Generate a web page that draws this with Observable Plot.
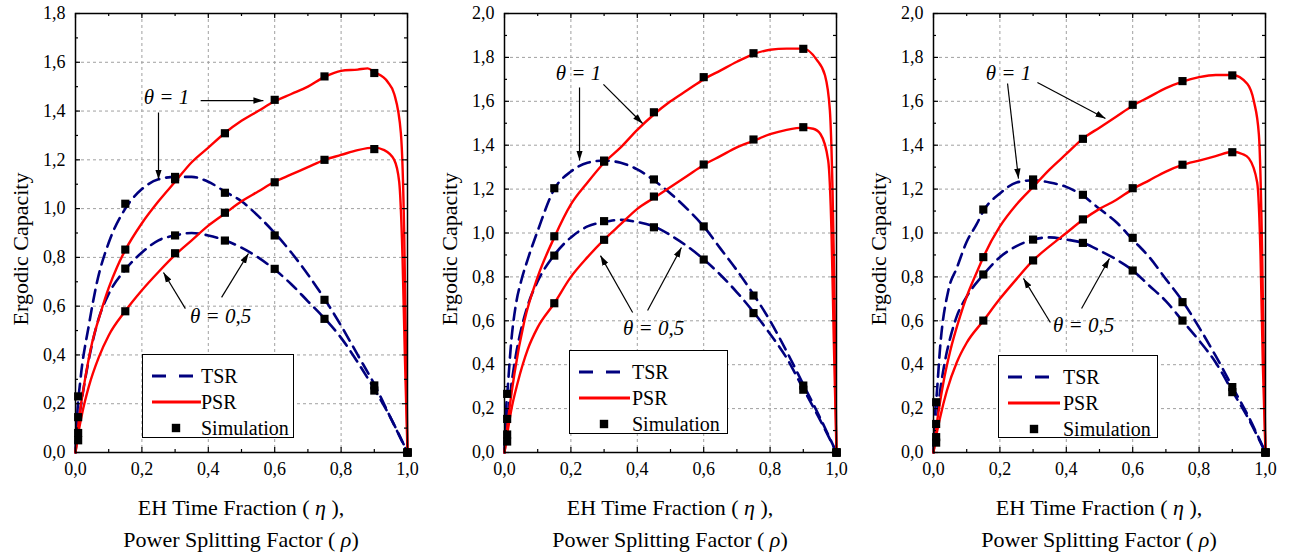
<!DOCTYPE html>
<html><head><meta charset="utf-8">
<script src="https://cdn.jsdelivr.net/npm/d3@7"></script>
<script src="https://cdn.jsdelivr.net/npm/@observablehq/plot@0.6"></script>
<style>
html,body{margin:0;padding:0;background:#fff;}
body{font-family:"Liberation Serif","Times New Roman",serif;color:#000;}
#wrap{position:relative;width:1293px;height:555px;overflow:hidden;}
.panel{position:absolute;top:0;height:555px;}
.panel svg{position:absolute;left:0;top:0;}
.panel svg text{font-family:"Liberation Serif","Times New Roman",serif !important;}
.xlab{position:absolute;top:492px;width:400px;text-align:center;font-size:22px;line-height:32px;white-space:nowrap;font-family:"Liberation Serif","Times New Roman",serif;}
.legend{position:absolute;border:1px solid #000;background:#fff;box-sizing:border-box;font-size:20px;font-family:"Liberation Serif","Times New Roman",serif;}
.legend .row{position:absolute;left:0;height:26px;line-height:26px;width:100%;}
.legend .row span{position:absolute;top:0;}
.legend .row svg{position:absolute;top:0;left:0;}
</style>
</head><body>
<div id="wrap"></div>
<script>
// ---------- data ----------
const yMax = [1.8, 2.0, 2.0];
const seriesNames = ["TSR", "PSR", "Simulation"];
const xLabelLine1 = "EH Time Fraction ( <i>η</i> ),";
const xLabelLine2 = "Power Splitting Factor ( <i>ρ</i>)";
const yLabel = "Ergodic Capacity";
const thetaLabels = ["θ = 1", "θ = 0,5"];

// Panel 1 analytic curves [x, capacity]
const p1TSR1 = [[0,0],[0.005,0.15],[0.015,0.3],[0.04,0.52],[0.065,0.7],[0.1,0.86],[0.15,1.0],[0.2,1.08],[0.25,1.12],[0.3,1.13],[0.35,1.13],[0.4,1.11],[0.45,1.07],[0.5,1.03],[0.55,0.97],[0.6,0.9],[0.65,0.82],[0.7,0.73],[0.75,0.63],[0.8,0.52],[0.85,0.4],[0.9,0.28],[0.95,0.14],[1,0]];
const p1TSR05 = [[0,0],[0.005,0.08],[0.015,0.18],[0.04,0.38],[0.07,0.55],[0.1,0.65],[0.15,0.75],[0.2,0.82],[0.25,0.87],[0.3,0.89],[0.35,0.9],[0.4,0.89],[0.45,0.87],[0.5,0.84],[0.55,0.8],[0.6,0.75],[0.65,0.69],[0.7,0.62],[0.75,0.55],[0.8,0.47],[0.85,0.37],[0.9,0.26],[0.95,0.14],[1,0]];
const p1PSR1 = [[0,0],[0.01,0.13],[0.03,0.31],[0.05,0.45],[0.075,0.57],[0.1,0.675],[0.125,0.76],[0.15,0.83],[0.2,0.94],[0.25,1.03],[0.3,1.11],[0.35,1.19],[0.4,1.25],[0.45,1.31],[0.5,1.36],[0.55,1.4],[0.6,1.44],[0.65,1.47],[0.7,1.5],[0.75,1.54],[0.8,1.565],[0.85,1.57],[0.88,1.575],[0.9,1.56],[0.94,1.52],[0.96,1.47],[0.98,1.31],[0.99,0.9],[0.995,0.45],[1,0]];
const p1PSR05 = [[0,0],[0.01,0.09],[0.02,0.16],[0.04,0.27],[0.07,0.39],[0.1,0.48],[0.15,0.58],[0.2,0.665],[0.25,0.74],[0.3,0.81],[0.35,0.87],[0.4,0.93],[0.45,0.98],[0.5,1.03],[0.55,1.07],[0.6,1.11],[0.65,1.14],[0.7,1.17],[0.75,1.2],[0.8,1.22],[0.85,1.24],[0.9,1.25],[0.93,1.24],[0.96,1.2],[0.975,1.11],[0.985,0.8],[0.992,0.4],[1,0]];

// Panel 2
const p2TSR1 = [[0,0],[0.005,0.2],[0.01,0.3],[0.02,0.5],[0.035,0.68],[0.05,0.78],[0.07,0.88],[0.1,1.01],[0.15,1.2],[0.2,1.28],[0.25,1.32],[0.3,1.33],[0.35,1.32],[0.4,1.29],[0.45,1.24],[0.5,1.18],[0.55,1.11],[0.6,1.03],[0.65,0.93],[0.7,0.83],[0.75,0.72],[0.8,0.6],[0.85,0.46],[0.9,0.31],[0.95,0.16],[1,0]];
const p2TSR05 = [[0,0],[0.005,0.1],[0.01,0.17],[0.02,0.3],[0.035,0.45],[0.05,0.56],[0.07,0.67],[0.1,0.78],[0.15,0.9],[0.2,0.98],[0.25,1.03],[0.3,1.05],[0.35,1.06],[0.4,1.05],[0.45,1.03],[0.5,0.99],[0.55,0.94],[0.6,0.88],[0.65,0.81],[0.7,0.73],[0.75,0.64],[0.8,0.54],[0.85,0.43],[0.9,0.29],[0.95,0.15],[1,0]];
const p2PSR1 = [[0,0],[0.01,0.14],[0.03,0.36],[0.06,0.6],[0.1,0.8],[0.15,0.98],[0.2,1.13],[0.25,1.23],[0.3,1.32],[0.35,1.39],[0.4,1.47],[0.45,1.54],[0.5,1.6],[0.55,1.65],[0.6,1.7],[0.65,1.74],[0.7,1.78],[0.75,1.815],[0.8,1.835],[0.85,1.84],[0.9,1.84],[0.94,1.79],[0.965,1.72],[0.98,1.56],[0.988,1.2],[0.993,0.8],[0.997,0.3],[1,0]];
const p2PSR05 = [[0,0],[0.01,0.1],[0.02,0.19],[0.04,0.32],[0.07,0.47],[0.1,0.57],[0.15,0.68],[0.2,0.8],[0.25,0.89],[0.3,0.97],[0.35,1.04],[0.4,1.11],[0.45,1.16],[0.5,1.21],[0.55,1.26],[0.6,1.31],[0.65,1.35],[0.7,1.39],[0.75,1.42],[0.8,1.45],[0.85,1.47],[0.9,1.48],[0.93,1.475],[0.952,1.45],[0.975,1.33],[0.985,1.0],[0.992,0.5],[1,0]];

// Panel 3
const p3TSR1 = [[0,0],[0.005,0.18],[0.01,0.27],[0.02,0.48],[0.045,0.74],[0.07,0.84],[0.1,0.96],[0.13,1.04],[0.15,1.1],[0.2,1.18],[0.25,1.23],[0.3,1.24],[0.35,1.23],[0.4,1.21],[0.45,1.17],[0.5,1.11],[0.55,1.05],[0.6,0.97],[0.65,0.89],[0.7,0.79],[0.75,0.69],[0.8,0.57],[0.85,0.44],[0.9,0.3],[0.95,0.16],[1,0]];
const p3TSR05 = [[0,0],[0.005,0.09],[0.01,0.15],[0.02,0.28],[0.035,0.42],[0.05,0.52],[0.07,0.62],[0.1,0.71],[0.15,0.81],[0.2,0.89],[0.25,0.94],[0.3,0.97],[0.35,0.98],[0.4,0.97],[0.45,0.955],[0.5,0.92],[0.55,0.88],[0.6,0.83],[0.65,0.76],[0.7,0.69],[0.75,0.6],[0.8,0.51],[0.85,0.41],[0.9,0.28],[0.95,0.15],[1,0]];
const p3PSR1 = [[0,0],[0.01,0.13],[0.03,0.32],[0.05,0.46],[0.08,0.62],[0.1,0.71],[0.13,0.82],[0.15,0.89],[0.2,1.03],[0.25,1.13],[0.3,1.21],[0.35,1.29],[0.4,1.36],[0.45,1.43],[0.5,1.48],[0.55,1.53],[0.6,1.58],[0.65,1.62],[0.7,1.66],[0.75,1.69],[0.8,1.71],[0.85,1.72],[0.9,1.72],[0.945,1.68],[0.965,1.6],[0.98,1.45],[0.99,0.9],[0.995,0.4],[1,0]];
const p3PSR05 = [[0,0],[0.01,0.09],[0.02,0.16],[0.04,0.28],[0.07,0.41],[0.1,0.5],[0.15,0.6],[0.2,0.7],[0.25,0.79],[0.3,0.875],[0.35,0.94],[0.4,1.0],[0.45,1.06],[0.5,1.11],[0.55,1.15],[0.6,1.2],[0.65,1.24],[0.7,1.28],[0.75,1.31],[0.8,1.33],[0.85,1.35],[0.9,1.37],[0.93,1.36],[0.95,1.34],[0.975,1.23],[0.985,0.9],[0.992,0.4],[1,0]];

// Simulation points
const simX = [0.008, 0.15, 0.3, 0.45, 0.6, 0.75, 0.9, 1.0];
const p1SimTSR1  = [0.23, 1.02, 1.13, 1.065, 0.89, 0.626, 0.275, 0];
const p1SimTSR05 = [0.145, 0.754, 0.89, 0.869, 0.753, 0.548, 0.254, 0];
const p1SimPSR1  = [0.08, 0.832, 1.12, 1.309, 1.446, 1.542, 1.556, 0];
const p1SimPSR05 = [0.05, 0.579, 0.817, 0.983, 1.108, 1.20, 1.244, 0];
const p2SimTSR1  = [0.267, 1.204, 1.33, 1.244, 1.03, 0.715, 0.305, 0];
const p2SimTSR05 = [0.153, 0.897, 1.054, 1.026, 0.879, 0.635, 0.286, 0];
const p2SimPSR1  = [0.082, 0.985, 1.325, 1.55, 1.71, 1.819, 1.839, 0];
const p2SimPSR05 = [0.05, 0.68, 0.969, 1.166, 1.312, 1.426, 1.482, 0];
const p3SimTSR1  = [0.229, 1.107, 1.244, 1.174, 0.978, 0.685, 0.298, 0];
const p3SimTSR05 = [0.13, 0.811, 0.97, 0.955, 0.829, 0.601, 0.275, 0];
const p3SimPSR1  = [0.07, 0.89, 1.216, 1.429, 1.584, 1.692, 1.718, 0];
const p3SimPSR05 = [0.045, 0.601, 0.875, 1.062, 1.204, 1.311, 1.368, 0];

// Annotation arrows [x1, y1, x2, y2] and label anchors [x, y] (data units)
const p1Arrows = [[0.377,1.443,0.566,1.443],[0.25,1.394,0.25,1.119],[0.331,0.590,0.265,0.738],[0.44,0.636,0.521,0.816]];
const p1LabelPos = [[0.274,1.456],[0.437,0.558]];
const p2Arrows = [[0.226,1.663,0.226,1.330],[0.298,1.677,0.416,1.499],[0.386,0.638,0.289,0.897],[0.431,0.647,0.533,0.934]];
const p2LabelPos = [[0.223,1.727],[0.449,0.565]];
const p3Arrows = [[0.223,1.681,0.256,1.248],[0.313,1.686,0.518,1.522],[0.352,0.592,0.271,0.793],[0.446,0.656,0.530,0.884]];
const p3LabelPos = [[0.226,1.727],[0.452,0.579]];

// ---------- layout ----------
const TSR_COLOR = "#00007f", PSR_COLOR = "#ff0000";
const SERIF = '"Liberation Serif","Times New Roman",serif';
const panels = [
  {left:0,   width:430, ml:75, curves:[p1TSR1,p1TSR05,p1PSR1,p1PSR05], sims:[p1SimTSR1,p1SimTSR05,p1SimPSR1,p1SimPSR05], arrows:p1Arrows, labels:p1LabelPos,
   lg:{left:142, top:354, w:152, h:84, tx:58, sq:33, dashEnd:50, lineEnd:58}},
  {left:430, width:430, ml:74, curves:[p2TSR1,p2TSR05,p2PSR1,p2PSR05], sims:[p2SimTSR1,p2SimTSR05,p2SimPSR1,p2SimPSR05], arrows:p2Arrows, labels:p2LabelPos,
   lg:{left:139, top:350, w:159, h:84, tx:62, sq:34, dashEnd:51, lineEnd:60}},
  {left:860, width:433, ml:73, curves:[p3TSR1,p3TSR05,p3PSR1,p3PSR05], sims:[p3SimTSR1,p3SimTSR05,p3SimPSR1,p3SimPSR05], arrows:p3Arrows, labels:p3LabelPos,
   lg:{left:138, top:355, w:160, h:83, tx:64, sq:35, dashEnd:51, lineEnd:61}}
];
const FRAME_W = 332, MT = 13, FRAME_H = 439, SVG_H = 480;
const fmt = d => d.toFixed(1).replace(".", ",");
const wrap = document.getElementById("wrap");

panels.forEach((p, i) => {
  const ym = yMax[i];
  const majorX = d3.range(0, 11, 2).map(v => v / 10);
  const minorX = d3.range(1, 10, 2).map(v => v / 10);
  const majorY = d3.range(0, Math.round(ym * 10) + 1, 2).map(v => v / 10);
  const minorY = d3.range(1, Math.round(ym * 10), 2).map(v => v / 10);
  const gridXv = majorX.filter(v => v > 0 && v < 1);
  const gridYv = majorY.filter(v => v > 0 && v < ym);

  const lineSpecs = [
    {data:p.curves[0], stroke:TSR_COLOR, dash:"12,7", w:2.6},
    {data:p.curves[1], stroke:TSR_COLOR, dash:"12,7", w:2.6},
    {data:p.curves[2], stroke:PSR_COLOR, dash:null, w:2.4},
    {data:p.curves[3], stroke:PSR_COLOR, dash:null, w:2.4}
  ];
  const simPts = [];
  p.sims.forEach(arr => arr.forEach((v, j) => simPts.push({x: simX[j], y: v})));
  const arrowRows = p.arrows.map(a => ({x1:a[0], y1:a[1], x2:a[2], y2:a[3]}));
  const labelRows = p.labels.map((l, k) => ({x:l[0], y:l[1], t:thetaLabels[k]}));
  const mr = p.width - p.ml - FRAME_W;
  const innerTick = (n) => FRAME_H - n;

  const chart = Plot.plot({
    width: p.width, height: SVG_H,
    marginLeft: p.ml, marginRight: mr, marginTop: MT, marginBottom: SVG_H - MT - FRAME_H,
    x: {domain:[0,1]},
    y: {domain:[0,ym]},
    style: {fontFamily:SERIF, fontSize:"18px", color:"#000", background:"transparent", overflow:"visible"},
    marks: [
      Plot.ruleX(gridXv, {stroke:"#a0a0a0", strokeWidth:1, strokeDasharray:"3,3"}),
      Plot.ruleY(gridYv, {stroke:"#a0a0a0", strokeWidth:1, strokeDasharray:"3,3"}),
      ...lineSpecs.map(s => Plot.line(s.data, {x: d => d[0], y: d => d[1], stroke: s.stroke, strokeWidth: s.w, strokeDasharray: s.dash, curve: "monotone-x"})),
      Plot.dot(simPts, {x:"x", y:"y", symbol:"square", r:4.6, fill:"black", stroke:"none"}),
      Plot.link(arrowRows, {x1:"x1", y1:"y1", x2:"x2", y2:"y2", stroke:"black", strokeWidth:1.2, markerEnd:"arrow"}),
      Plot.text(labelRows, {x:"x", y:"y", text:"t", fontSize:21, fontStyle:"italic", fontFamily:SERIF, textAnchor:"middle", lineAnchor:"middle", fill:"black"}),
      // inward ticks, all four sides
      Plot.tickX(majorX, {x:d=>d, insetTop: innerTick(5), stroke:"black", strokeWidth:1.2}),
      Plot.tickX(minorX, {x:d=>d, insetTop: innerTick(3), stroke:"black", strokeWidth:1.2}),
      Plot.tickX(majorX, {x:d=>d, insetBottom: innerTick(5), stroke:"black", strokeWidth:1.2}),
      Plot.tickX(minorX, {x:d=>d, insetBottom: innerTick(3), stroke:"black", strokeWidth:1.2}),
      Plot.tickY(majorY, {y:d=>d, insetRight: FRAME_W - 5, stroke:"black", strokeWidth:1.2}),
      Plot.tickY(minorY, {y:d=>d, insetRight: FRAME_W - 3, stroke:"black", strokeWidth:1.2}),
      Plot.tickY(majorY, {y:d=>d, insetLeft: FRAME_W - 5, stroke:"black", strokeWidth:1.2}),
      Plot.tickY(minorY, {y:d=>d, insetLeft: FRAME_W - 3, stroke:"black", strokeWidth:1.2}),
      Plot.axisX(majorX, {tickSize:0, tickPadding:10, tickFormat:fmt, label:null, fontSize:18, fontFamily:SERIF}),
      Plot.axisY(majorY, {tickSize:0, tickPadding:10, tickFormat:fmt, label:null, fontSize:18, fontFamily:SERIF}),
      Plot.frame({stroke:"black", strokeWidth:1.5}),
      Plot.text([yLabel], {frameAnchor:"left", text:d=>d, rotate:-90, dx:-55, dy:16, fontSize:22, fontFamily:SERIF, textAnchor:"middle", lineAnchor:"middle", fill:"black"})
    ]
  });

  // filled arrowheads
  chart.querySelectorAll("marker").forEach(m => {
    m.setAttribute("viewBox", "-10 -5 10 10");
    m.setAttribute("markerUnits", "userSpaceOnUse");
    m.setAttribute("markerWidth", "10");
    m.setAttribute("markerHeight", "10");
    m.setAttribute("fill", "black");
    m.setAttribute("stroke", "none");
    const path = m.querySelector("path");
    if (path) path.setAttribute("d", "M-10,-3.2L0,0L-10,3.2Z");
  });

  const div = document.createElement("div");
  div.className = "panel";
  div.style.left = p.left + "px";
  div.style.width = p.width + "px";
  div.appendChild(chart);

  // x label (two lines)
  const xl = document.createElement("div");
  xl.className = "xlab";
  xl.style.left = (p.ml + FRAME_W / 2 - 200) + "px";
  xl.innerHTML = xLabelLine1 + "<br>" + xLabelLine2;
  div.appendChild(xl);

  // legend
  const g = p.lg;
  const lg = document.createElement("div");
  lg.className = "legend";
  Object.assign(lg.style, {left:g.left+"px", top:g.top+"px", width:g.w+"px", height:g.h+"px"});
  const rowTops = [8, 34, 60];
  const swatches = [
    `<svg width="${g.lineEnd+2}" height="26"><line x1="9" x2="${g.dashEnd}" y1="13" y2="13" stroke="${TSR_COLOR}" stroke-width="3.2" stroke-dasharray="14,13"/></svg>`,
    `<svg width="${g.lineEnd+2}" height="26"><line x1="9" x2="${g.lineEnd}" y1="13" y2="13" stroke="${PSR_COLOR}" stroke-width="3"/></svg>`,
    `<svg width="${g.lineEnd+2}" height="26"><rect x="${g.sq-4.2}" y="${13-4.2}" width="8.4" height="8.4" fill="black"/></svg>`
  ];
  seriesNames.forEach((name, k) => {
    const r = document.createElement("div");
    r.className = "row";
    r.style.top = rowTops[k] + "px";
    r.innerHTML = swatches[k] + `<span style="left:${g.tx}px">${name}</span>`;
    lg.appendChild(r);
  });
  div.appendChild(lg);
  wrap.appendChild(div);
});
</script>
</body></html>
